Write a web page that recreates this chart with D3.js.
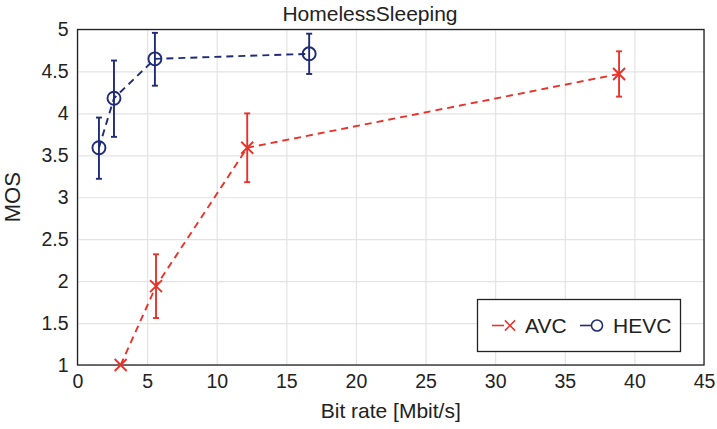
<!DOCTYPE html>
<html>
<head>
<meta charset="utf-8">
<script src="https://cdn.jsdelivr.net/npm/d3@7"></script>
<style>
  body { margin: 0; background: #fff; }
  svg { font-family: "Liberation Sans", Arial, sans-serif; }
  .grid line { stroke: #e3e3e3; stroke-width: 1.2; }
  .grid path { display: none; }
  .tick text { font-size: 19.5px; fill: #222; }
</style>
</head>
<body>
<svg width="717" height="429"></svg>
<script>
// AVC series
var avcRate = [3.1, 5.64, 12.19, 38.9];
var avcMos  = [1.0, 1.94, 3.59, 4.47];
var avcLow  = [1.0, 1.56, 3.18, 4.20];
var avcHigh = [1.0, 2.32, 4.00, 4.74];
// HEVC series
var hevcRate = [1.54, 2.62, 5.56, 16.64];
var hevcMos  = [3.59, 4.18, 4.65, 4.71];
var hevcLow  = [3.22, 3.72, 4.33, 4.47];
var hevcHigh = [3.95, 4.63, 4.96, 4.95];

var xTicks = [0, 5, 10, 15, 20, 25, 30, 35, 40, 45];
var yTicks = [1, 1.5, 2, 2.5, 3, 3.5, 4, 4.5, 5];

var red = "#e8322a", blue = "#1f2a78";

draw();

function draw() {
    var margin = {top: 29.5, left: 77.5, right: 13, bottom: 64};
    var width = 717 - margin.left - margin.right;
    var height = 429 - margin.top - margin.bottom;

    var svg = d3.select("svg");
    var g = svg.append("g").attr("transform", "translate(" + margin.left + "," + margin.top + ")");

    var x = d3.scaleLinear().domain([0, 45]).range([0, width]);
    var y = d3.scaleLinear().domain([1, 5]).range([height, 0]);

    // grid
    g.append("g").attr("class", "grid")
        .attr("transform", "translate(0," + height + ")")
        .call(d3.axisBottom(x).tickValues(xTicks).tickSize(-height).tickFormat(""));
    g.append("g").attr("class", "grid")
        .call(d3.axisLeft(y).tickValues(yTicks).tickSize(-width).tickFormat(""));

    // tick labels
    var xa = g.append("g").attr("transform", "translate(0," + height + ")")
        .call(d3.axisBottom(x).tickValues(xTicks).tickSize(0).tickPadding(9).tickFormat(d3.format("d")));
    xa.select(".domain").remove();
    var ya = g.append("g")
        .call(d3.axisLeft(y).tickValues(yTicks).tickSize(0).tickPadding(9).tickFormat(function(d) { return String(d); }));
    ya.select(".domain").remove();

    g.append("rect").attr("width", width).attr("height", height)
        .attr("fill", "none").attr("stroke", "#222").attr("stroke-width", 1.3);

    function zip(r, m, lo, hi) {
        return r.map(function(v, i) { return {x: v, y: m[i], lo: lo[i], hi: hi[i]}; });
    }
    var avc = zip(avcRate, avcMos, avcLow, avcHigh);
    var hevc = zip(hevcRate, hevcMos, hevcLow, hevcHigh);

    var line = d3.line().x(function(d) { return x(d.x); }).y(function(d) { return y(d.y); });

    function series(data, color, marker) {
        var s = g.append("g");
        s.append("path").datum(data).attr("d", line)
            .attr("fill", "none").attr("stroke", color)
            .attr("stroke-width", 1.9).attr("stroke-dasharray", "7,5");
        var e = s.selectAll("g.err").data(data.filter(function(d) { return d.hi > d.lo; }))
            .enter().append("g").attr("stroke", color).attr("stroke-width", 1.9);
        e.append("line").attr("x1", function(d) { return x(d.x); }).attr("x2", function(d) { return x(d.x); })
            .attr("y1", function(d) { return y(d.lo); }).attr("y2", function(d) { return y(d.hi); });
        e.append("line").attr("x1", function(d) { return x(d.x) - 3; }).attr("x2", function(d) { return x(d.x) + 3; })
            .attr("y1", function(d) { return y(d.lo); }).attr("y2", function(d) { return y(d.lo); });
        e.append("line").attr("x1", function(d) { return x(d.x) - 3; }).attr("x2", function(d) { return x(d.x) + 3; })
            .attr("y1", function(d) { return y(d.hi); }).attr("y2", function(d) { return y(d.hi); });
        s.selectAll("path.mk").data(data).enter().append("path")
            .attr("transform", function(d) { return "translate(" + x(d.x) + "," + y(d.y) + ")"; })
            .attr("d", marker).attr("fill", "none").attr("stroke", color).attr("stroke-width", 1.9);
    }
    var cross = "M-6,-6L6,6M-6,6L6,-6";
    var circ = "M6.5,0A6.5,6.5 0 1 1 -6.5,0A6.5,6.5 0 1 1 6.5,0";
    series(avc, red, cross);
    series(hevc, blue, circ);

    // title and labels
    svg.append("text").attr("x", 370).attr("y", 21)
        .attr("text-anchor", "middle").style("font-size", "21px").attr("fill", "#222").text("HomelessSleeping");
    svg.append("text").attr("x", margin.left + width / 2).attr("y", 418)
        .attr("text-anchor", "middle").style("font-size", "21px").attr("fill", "#222").text("Bit rate [Mbit/s]");
    svg.append("text").attr("transform", "translate(20," + (margin.top + height / 2) + ") rotate(-90)")
        .attr("text-anchor", "middle").style("font-size", "22px").attr("fill", "#222").text("MOS");

    // legend
    var lg = svg.append("g");
    lg.append("rect").attr("x", 477.5).attr("y", 299.5).attr("width", 203).attr("height", 52)
        .attr("fill", "#fff").attr("stroke", "#222").attr("stroke-width", 1.3);
    lg.append("line").attr("x1", 492).attr("x2", 504).attr("y1", 325.5).attr("y2", 325.5)
        .attr("stroke", red).attr("stroke-width", 1.6);
    lg.append("path").attr("transform", "translate(510,325.5) scale(0.85)").attr("d", cross)
        .attr("fill", "none").attr("stroke", red).attr("stroke-width", 1.8);
    lg.append("text").attr("x", 525).attr("y", 333).style("font-size", "21px").attr("fill", "#222").text("AVC");
    lg.append("line").attr("x1", 580).attr("x2", 592).attr("y1", 325.5).attr("y2", 325.5)
        .attr("stroke", blue).attr("stroke-width", 1.6);
    lg.append("path").attr("transform", "translate(597,325.5) scale(0.85)").attr("d", circ)
        .attr("fill", "none").attr("stroke", blue).attr("stroke-width", 1.8);
    lg.append("text").attr("x", 613).attr("y", 333).style("font-size", "21px").attr("fill", "#222").text("HEVC");
}
</script>
</body>
</html>
